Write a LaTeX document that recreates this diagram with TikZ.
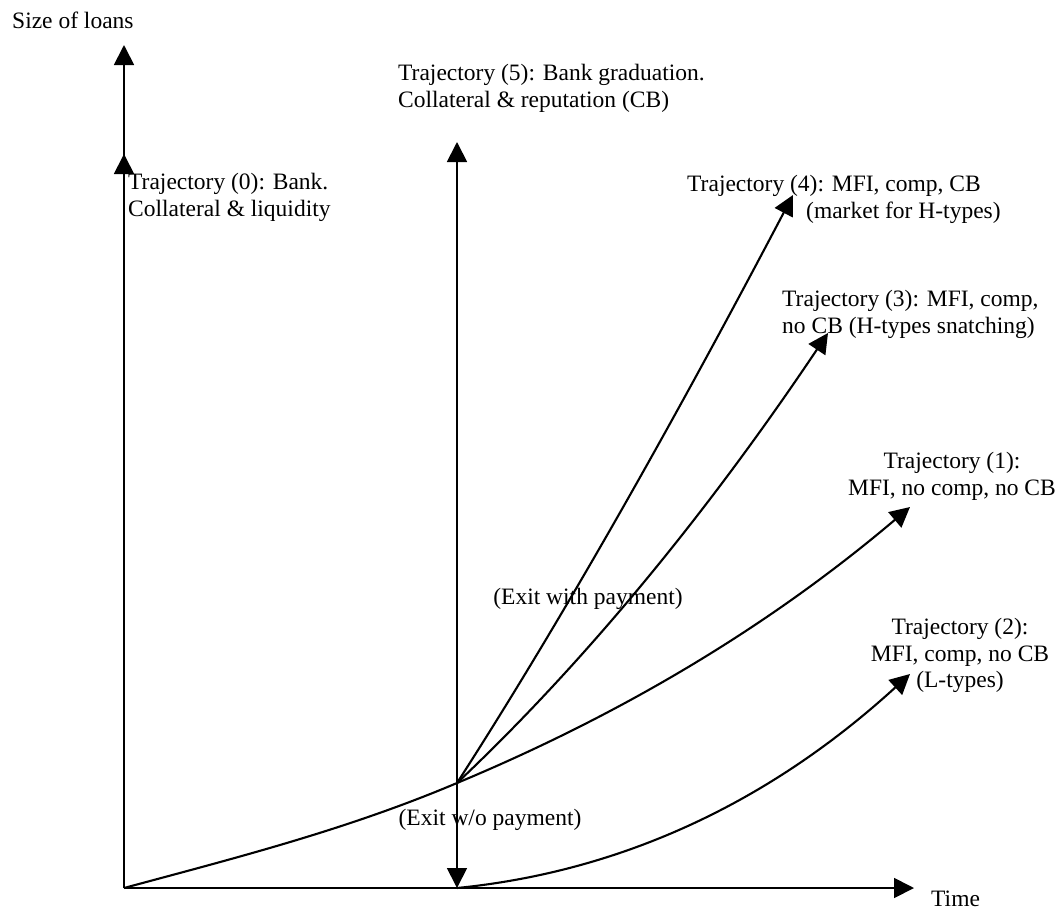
\documentclass[tikz,border=0pt]{standalone}
\usepackage{fontspec}
\setmainfont{Liberation Serif}
\usetikzlibrary{arrows.meta}

\begin{document}
\begin{tikzpicture}[x=1pt, y=-1pt,
  font=\fontsize{23.5}{26.5}\selectfont,
  axis/.style={line width=1.8pt, -{Triangle[length=20pt,width=20pt]}},
  traj/.style={line width=2.1pt, -{Triangle[length=20pt,width=20pt]}},
  lbl/.style={inner sep=0pt}]
\useasboundingbox (0,0) rectangle (1063,911);
% origin, branching point and the foot of the vertical line
\coordinate (o) at (124,888);
\coordinate (br) at (457,783);
\coordinate (ft) at (457,888);
% arrow tips
\coordinate (ytop) at (124,45);
\coordinate (tip0) at (124,154);
\coordinate (tip5) at (457,142);
\coordinate (xend) at (914,888);
\coordinate (tip1) at (910,507);
\coordinate (tip2) at (910,674);
\coordinate (tip3) at (828,333);
\coordinate (tip4) at (793,195);
% axes
\draw[axis] (o) -- (ytop);
\draw[axis] (o) -- (xend);
\node[lbl, anchor=west] (ylab) at (12,20) {Size of loans};
\node[lbl, anchor=west] (xlab) at (931,899) {Time};
% trajectory (0): straight up at the start
\draw[axis] (o) -- (tip0);
% trajectory (5) and exit without payment
\draw[axis] (br) -- (tip5);
\draw[axis] (br) -- (ft);
% trajectory (1), through the branching point
\draw[traj] (o) .. controls (235,858) and (346,830) .. (br)
  .. controls (608,720) and (759,635) .. (tip1);
% trajectories (3) and (4), from the branching point
\draw[traj] (br) .. controls (581,666) and (704,518) .. (tip3);
\draw[traj] (br) .. controls (569,609) and (681,408) .. (tip4);
% trajectory (2), from the foot
\draw[traj] (ft) .. controls (608,873) and (759,812) .. (tip2);
% labels
\node[lbl, anchor=north west, align=left] (lab0) at (128,173)
  {Trajectory (0): Bank.\\Collateral \& liquidity};
\node[lbl, anchor=north west, align=left] (lab5) at (398,64)
  {Trajectory (5): Bank graduation.\\Collateral \& reputation (CB)};
\node[lbl, anchor=north west, align=left] (lab4) at (687,175)
  {Trajectory (4): MFI, comp, CB\\\hspace*{119pt}(market for H-types)};
\node[lbl, anchor=north west, align=left] (lab3) at (782,290)
  {Trajectory (3): MFI, comp,\\no CB (H-types snatching)};
\node[lbl, anchor=north, align=center] (lab1) at (952,452)
  {Trajectory (1):\\MFI, no comp, no CB};
\node[lbl, anchor=north, align=center] (lab2) at (960,618)
  {Trajectory (2):\\MFI, comp, no CB\\(L-types)};
\node[lbl] (exitw) at (588,599) {(Exit with payment)};
\node[lbl] (exitwo) at (490,820) {(Exit w/o payment)};
\end{tikzpicture}
\end{document}
